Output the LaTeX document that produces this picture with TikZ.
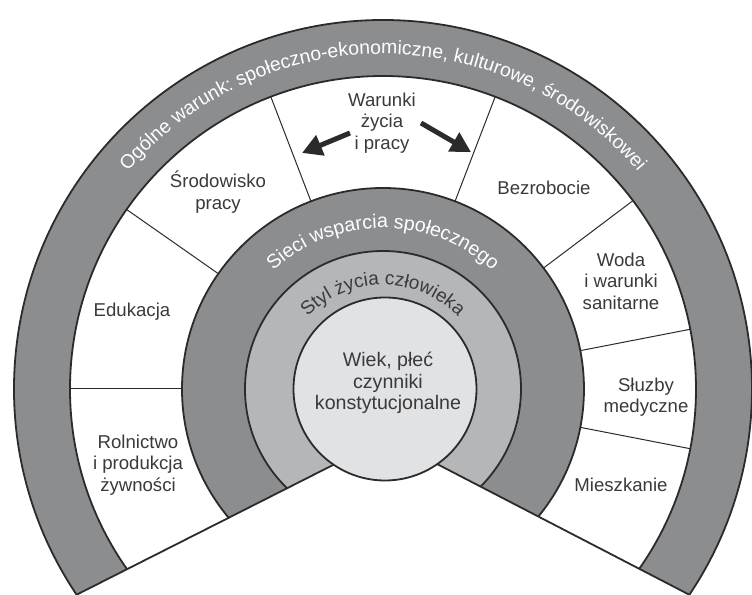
\documentclass[tikz,border=0pt]{standalone}
\usepackage{fontspec}
\setmainfont{Liberation Sans}
\usetikzlibrary{decorations.text,arrows.meta}

\definecolor{ringdark}{HTML}{8C8D8F}
\definecolor{ringlight}{HTML}{B5B6B8}
\definecolor{core}{HTML}{E1E2E4}
\definecolor{ink}{HTML}{2B2B2B}
\definecolor{txt}{HTML}{3A3A3A}

\tikzset{
  rim/.style={draw=ink,line width=0.9pt},
  sep/.style={draw=ink,line width=0.5pt},
  lab/.style={text=txt,align=center,inner sep=0pt,font=\fontsize{9.3}{10.75}\selectfont},
  bigarrow/.style={draw=ink,line width=2.5pt,-{Triangle[length=10pt,width=10.5pt]}},
}

\begin{document}
\begin{tikzpicture}[x=0.5pt,y=0.5pt]
\useasboundingbox (-383,-206) rectangle (369,389);
\fill[white] (-383,-206) rectangle (369,389);

% wedge corner and far ends of the two bottom edges
\coordinate (V) at (3.6,-48.9);
\coordinate (L) at (-429.5,-268);
\coordinate (R) at (426.5,-268);

% ========== rings ==========
\begin{scope}
\clip (V) -- (L) -- (-430,400) -- (430,400) -- (R) -- cycle;
\path[rim,fill=ringdark] (0,0) circle[radius=369];
\path[rim,fill=white] (0,0) circle[radius=313];
% dividers of the white ring
\foreach \a in {180,145,111,69,37,11,-11}
  \draw[sep] (\a:201) -- (\a:313);
\path[rim,fill=ringdark] (0,0) circle[radius=201];
\path[rim,fill=ringlight] (0,0) circle[radius=138];
\end{scope}

% bottom edges
\begin{scope}
\clip (0,0) circle[radius=369.5];
\draw[rim] (V) -- (L);
\draw[rim] (V) -- (R);
\end{scope}

% core
\path[rim,fill=core] (2,0) circle[radius=91.5];

% ========== ring texts ==========
\path[decorate,decoration={text along path,text align=center,text color=white,
  text={|\fontsize{9.7}{11}\selectfont|Ogólne warunk: społeczno-ekonomiczne, kulturowe, środowiskowei}}]
  (150:335) arc[start angle=150,end angle=30,radius=335];
\path[decorate,decoration={text along path,text align=center,text color=white,
  text={|\fontsize{9.8}{11}\selectfont|Sieci wsparcia społecznego}}]
  (160:161) arc[start angle=160,end angle=20,radius=161];
\path[decorate,decoration={text along path,text align=center,text color=txt,
  text={|\fontsize{9.5}{11}\selectfont|Styl życia człowieka}}]
  (170:104) arc[start angle=170,end angle=10,radius=104];

% ========== labels ==========
\node[lab] (edukacja) at (-251,77) {Edukacja};
\node[lab] (rolnictwo) at (-245,-76) {Rolnictwo\\i produkcja\\żywności};
\node[lab] (srodowisko) at (-165,197) {Środowisko\\pracy};
\node[lab] (warunki) at (-1,266) {Warunki\\życia\\i pracy};
\node[lab] (bezrobocie) at (161,201) {Bezrobocie};
\node[lab] (woda) at (238,108) {Woda\\i warunki\\sanitarne};
\node[lab] (sluzby) at (263,-8) {Słuzby\\medyczne};
\node[lab] (mieszkanie) at (238,-96) {Mieszkanie};
\node[lab,font=\fontsize{9.8}{10.75}\selectfont] (wiek) at (5,6) {Wiek, płeć\\czynniki\\konstytucjonalne};

% ========== arrows ==========
\coordinate (lt) at (-33,256);
\coordinate (lh) at (-81,236);
\coordinate (rt) at (38,266);
\coordinate (rh) at (88,237);
\draw[bigarrow] (lt) -- (lh);
\draw[bigarrow] (rt) -- (rh);
\end{tikzpicture}
\end{document}
